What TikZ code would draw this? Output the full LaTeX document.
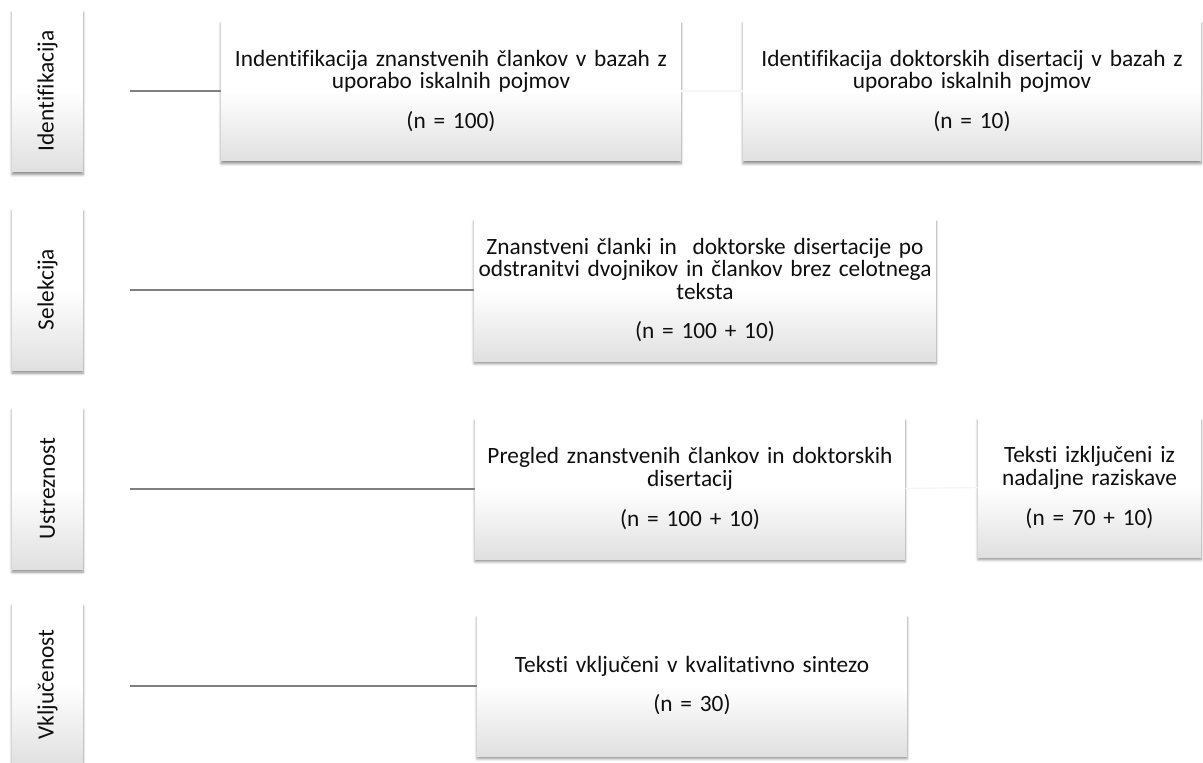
\documentclass[tikz,border=0pt]{standalone}
\usepackage{fontspec}
\setmainfont[Ligatures=NoCommon,WordSpace={0.6,0.4,0.3}]{Carlito}
\usepackage{tikz}
\usetikzlibrary{shapes,positioning,calc,shadows,shadows.blur}
\usepackage{xcolor}
\definecolor{linegray}{RGB}{128,128,128}
\definecolor{boxgray}{RGB}{224,224,224}
\definecolor{textdark}{RGB}{15,15,15}

\begin{document}
\begin{tikzpicture}[x=0.75pt,y=-0.75pt,
        phase/.style={rectangle,inner sep=0pt,minimum width=53.25pt,minimum height=121.5pt,
            top color=white,bottom color=boxgray,middle color=white,
            blur shadow={shadow xshift=0pt,shadow yshift=-2pt,shadow blur steps=6,shadow opacity=45},
            font=\fontsize{17.5pt}{17pt}\selectfont,text=textdark},
        stepbox/.style={rectangle,inner sep=0pt,align=center,
            top color=white,bottom color=boxgray,middle color=white,
            blur shadow={shadow xshift=0pt,shadow yshift=-2pt,shadow blur steps=6,shadow opacity=45},
            font=\fontsize{17.5pt}{16.8pt}\selectfont,text=textdark},
        link/.style={linegray,line width=1.5pt},
        faint/.style={black!4,line width=1pt}]
        \useasboundingbox (0,0) rectangle (1203,763);

        \node[phase] (idf) at (47.5,91) {\rotatebox{90}{Identifikacija}};
        \node[phase] (sel) at (47.5,289.5) {\rotatebox{90}{Selekcija}};
        \node[phase] (ustr) at (47.5,488.5) {\rotatebox{90}{Ustreznost}};
        \node[phase] (vklj) at (47.5,684.5) {\rotatebox{90}{Vključenost}};

        \node[stepbox,minimum width=345pt,minimum height=105pt,text width=340pt] (clanki) at (451,91)
            {Indentifikacija znanstvenih člankov v bazah z\\ uporabo iskalnih pojmov\\[13pt] (n = 100)};
        \node[stepbox,minimum width=343.5pt,minimum height=105pt,text width=340pt] (disert) at (972,91)
            {Identifikacija doktorskih disertacij v bazah z\\ uporabo iskalnih pojmov\\[13pt] (n = 10)};
        \node[stepbox,minimum width=346.5pt,minimum height=106.5pt,text width=344pt] (selbox) at (705,290)
            {Znanstveni članki in~ doktorske disertacije po\\ odstranitvi dvojnikov in člankov brez celotnega\\ teksta\\[13pt] (n = 100 + 10)};
        \node[stepbox,minimum width=322.5pt,minimum height=105.75pt,text width=318pt] (pregled) at (690,488.5)
            {Pregled znanstvenih člankov in doktorskih\\ disertacij\\[13pt] (n = 100 + 10)};
        \node[stepbox,minimum width=167.25pt,minimum height=104.25pt,text width=164pt] (izklj) at (1089.5,487.5)
            {Teksti izključeni iz\\ nadaljne raziskave\\[13pt] (n = 70 + 10)};
        \node[stepbox,minimum width=322.5pt,minimum height=105.75pt,text width=318pt] (sinteza) at (692,685.5)
            {Teksti vključeni v kvalitativno sintezo\\[13pt] (n = 30)};

        \coordinate (s1) at (130,91);
        \coordinate (s2) at (130,290);
        \coordinate (s3) at (130,488.5);
        \coordinate (s4) at (130,685.5);

        \draw[link] (s1) -- (clanki.west);
        \draw[link] (s2) -- (selbox.west);
        \draw[link] (s3) -- (pregled.west);
        \draw[link] (s4) -- (sinteza.west);
        \draw[faint] (clanki.east) -- (disert.west);
        \draw[faint] (pregled.east) -- (izklj.west);
    \end{tikzpicture}
\end{document}
